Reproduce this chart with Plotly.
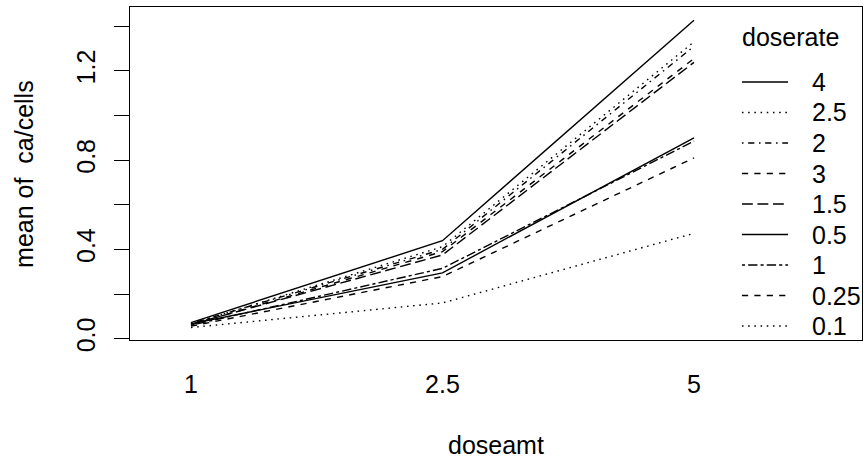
import plotly.graph_objects as go

# Factor levels of the x variable and of the trace variable (legend order:
# decreasing mean at the last dose amount)
doseamt_levels = ["1", "2.5", "5"]
doserate_levels = ["4", "2.5", "2", "3", "1.5", "0.5", "1", "0.25", "0.1"]

# Mean of ca/cells for each doserate at doseamt = 1, 2.5, 5
mean_4 = [0.072, 0.439, 1.427]
mean_2_5 = [0.066, 0.412, 1.330]
mean_2 = [0.068, 0.400, 1.310]
mean_3 = [0.062, 0.390, 1.255]
mean_1_5 = [0.064, 0.375, 1.238]
mean_0_5 = [0.066, 0.295, 0.900]
mean_1 = [0.060, 0.315, 0.885]
mean_0_25 = [0.056, 0.278, 0.810]
mean_0_1 = [0.050, 0.160, 0.472]

y_tick_values = [0.0, 0.2, 0.4, 0.6, 0.8, 1.0, 1.2, 1.4]
y_tick_labels = ["0.0", "", "0.4", "", "0.8", "", "1.2", ""]

series = {
    "4": mean_4, "2.5": mean_2_5, "2": mean_2, "3": mean_3, "1.5": mean_1_5,
    "0.5": mean_0_5, "1": mean_1, "0.25": mean_0_25, "0.1": mean_0_1,
}

# R line types (lty 1..6) expressed as pixel dash patterns, unit = line width
U = 1.55
def pat(*seg):
    return ",".join(f"{s * U:.2f}px" for s in seg)

LTY = {
    "solid": "solid",
    "dashed": pat(4, 4),
    "dotted": pat(1, 3),
    "dotdash": pat(1, 3, 4, 3),
    "longdash": pat(7, 3),
    "twodash": pat(2, 2, 6, 2),
}
# interaction.plot assigns lty = 9:1 to the sorted levels (9 -> 3, 8 -> 2, 7 -> 1)
level_lty = {
    "0.1": "dotted", "0.25": "dashed", "0.5": "solid", "1": "twodash",
    "1.5": "longdash", "2": "dotdash", "2.5": "dotted", "3": "dashed", "4": "solid",
}

FONT = "Liberation Sans, Arial, Helvetica, sans-serif"
FS = 25
LW = 1.4
x_codes = list(range(1, len(doseamt_levels) + 1))

fig = go.Figure()
for lvl in doserate_levels:
    fig.add_trace(go.Scatter(
        x=x_codes, y=series[lvl], mode="lines", name=lvl,
        line=dict(color="black", width=LW, dash=LTY[level_lty[lvl]]),
        showlegend=False, hoverinfo="skip",
    ))

# Legend drawn inside the plot region, R style (no box)
L_X0, L_X1, L_TX = 0.836, 0.899, 0.929
row0, step = 0.7748, 0.0916
annotations = [
    dict(text="doserate", x=L_X0 - 0.002, y=0.910, xref="paper", yref="paper",
         xanchor="left", yanchor="middle", showarrow=False,
         font=dict(family=FONT, size=FS, color="black")),
]
shapes = []
for i, lvl in enumerate(doserate_levels):
    yy = row0 - i * step
    shapes.append(dict(type="line", xref="paper", yref="paper",
                       x0=L_X0, x1=L_X1, y0=yy, y1=yy,
                       line=dict(color="black", width=LW, dash=LTY[level_lty[lvl]])))
    annotations.append(dict(text=lvl, x=L_TX, y=yy, xref="paper", yref="paper",
                            xanchor="left", yanchor="middle", showarrow=False,
                            font=dict(family=FONT, size=FS, color="black")))

annotations.append(dict(text="mean of \u00a0ca/cells", x=-0.1456, y=0.5,
                        xref="paper", yref="paper", textangle=-90,
                        xanchor="center", yanchor="middle", showarrow=False,
                        font=dict(family=FONT, size=FS, color="black")))
annotations.append(dict(text="doseamt", x=0.5, y=-0.3153, xref="paper", yref="paper",
                        xanchor="center", yanchor="middle", showarrow=False,
                        font=dict(family=FONT, size=FS, color="black")))

fig.update_layout(
    width=864, height=462,
    margin=dict(l=130, r=2, t=7, b=122, pad=0),
    paper_bgcolor="white", plot_bgcolor="white",
    font=dict(family=FONT, size=FS, color="black"),
    showlegend=False,
    annotations=annotations, shapes=shapes,
    xaxis=dict(
        range=[0.7575, 3.668], tickmode="array", tickvals=x_codes,
        ticktext=doseamt_levels, ticks="", showgrid=False, zeroline=False,
        showline=True, mirror=True, linecolor="black", linewidth=LW,
        tickfont=dict(family=FONT, size=FS, color="black"),
        ticklabelstandoff=22,
    ),
    yaxis=dict(
        range=[-0.006, 1.486], tickmode="array", tickvals=y_tick_values,
        ticktext=y_tick_labels, ticks="outside", ticklen=15, tickwidth=LW,
        tickcolor="black", tickangle=-90, showgrid=False, zeroline=False,
        showline=True, mirror=True, linecolor="black", linewidth=LW,
        tickfont=dict(family=FONT, size=FS, color="black"),
        ticklabelstandoff=9,
    ),
)

fig.write_html("out.html")
